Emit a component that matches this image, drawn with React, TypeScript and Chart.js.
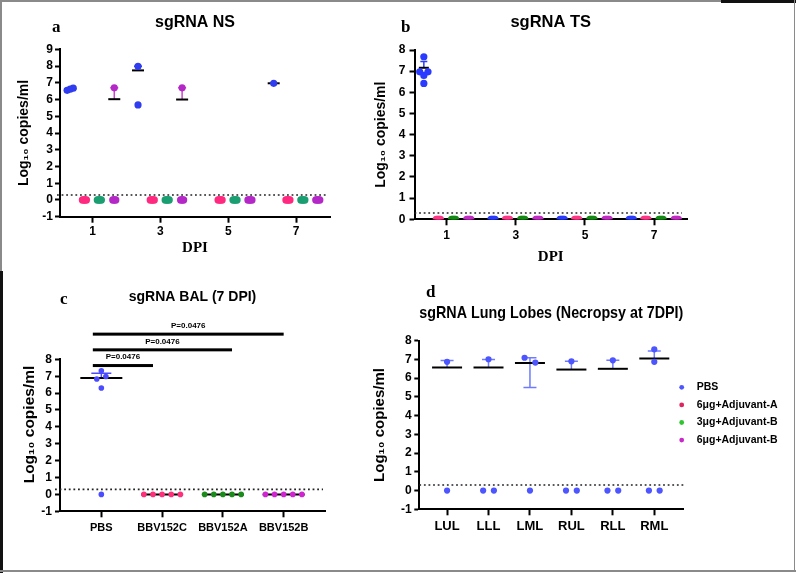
import React, { useEffect, useRef } from "react";
import { Chart, registerables } from "chart.js";
Chart.register(...registerables);

const SANS = "'Liberation Sans', Arial, Helvetica, sans-serif";
const SERIF = "'Liberation Serif', 'Times New Roman', Times, serif";

// ---------------- data ----------------
const DPI = [1, 3, 5, 7];
const GROUPS = ["PBS", "6μg+Adjuvant-A", "3μg+Adjuvant-B", "6μg+Adjuvant-B"];
const LOD = 0.3;
const Y_LABEL = "Log₁₀ copies/ml";

// (a) sgRNA NS — values per DPI for each group
const NS_PBS = [[6.55, 6.62, 6.68], [7.98, 5.68], [], [6.97]];
const NS_ADJ_A6 = [[0, 0, 0, 0, 0], [0, 0, 0, 0, 0], [0, 0, 0, 0, 0], [0, 0, 0, 0, 0]];
const NS_ADJ_B3 = [[0, 0, 0, 0, 0], [0, 0, 0, 0, 0], [0, 0, 0, 0, 0], [0, 0, 0, 0, 0]];
const NS_ADJ_B6 = [[6.7, 0, 0, 0, 0], [6.7, 0, 0, 0, 0], [0, 0, 0, 0, 0], [0, 0, 0, 0, 0]];
const NS_PBS_MEAN = [6.62, 7.74, null, 6.97];
const NS_PBS_UPPER = [null, 7.98, null, null];
const NS_B6_MEAN = [6.02, 6.0, null, null];
const NS_B6_UPPER = [6.7, 6.7, null, null];

// (b) sgRNA TS
const TS_PBS = [[7.68, 6.97, 6.97, 6.8, 6.42], [0, 0, 0, 0, 0], [0, 0, 0, 0, 0], [0, 0, 0, 0, 0]];
const TS_ADJ_A6 = [[0, 0, 0, 0, 0], [0, 0, 0, 0, 0], [0, 0, 0, 0, 0], [0, 0, 0, 0, 0]];
const TS_ADJ_B3 = [[0, 0, 0, 0, 0], [0, 0, 0, 0, 0], [0, 0, 0, 0, 0], [0, 0, 0, 0, 0]];
const TS_ADJ_B6 = [[0, 0, 0, 0, 0], [0, 0, 0, 0, 0], [0, 0, 0, 0, 0], [0, 0, 0, 0, 0]];
const TS_PBS_MEAN = [7.16, null, null, null];
const TS_PBS_UPPER = [7.46, null, null, null];

// (c) sgRNA BAL (7 DPI)
const BAL_CATEGORIES = ["PBS", "BBV152C", "BBV152A", "BBV152B"];
const BAL_PBS = [7.32, 6.83, 6.98, 6.3, 0];
const BAL_BBV152C = [0, 0, 0, 0, 0];
const BAL_BBV152A = [0, 0, 0, 0, 0];
const BAL_BBV152B = [0, 0, 0, 0, 0];
const BAL_MEAN = [6.89, 0, 0, 0];
const BAL_UPPER = [7.18, null, null, null];
const BAL_P_TEXT = ["P=0.0476", "P=0.0476", "P=0.0476"];
const BAL_P_LEVEL = [7.63, 8.56, 9.49];

// (d) sgRNA Lung Lobes
const LOBES = ["LUL", "LLL", "LML", "RUL", "RLL", "RML"];
const LOBE_PBS = [[6.87, 0], [7.01, 0, 0], [7.09, 6.83, 0], [6.9, 0, 0], [6.95, 0, 0], [7.54, 6.87, 0, 0]];
const LOBE_MEAN = [6.57, 6.57, 6.81, 6.46, 6.5, 7.05];
const LOBE_UPPER = [6.94, 7.0, 7.09, 6.9, 6.95, 7.45];
const LOBE_LOWER = [null, null, 5.5, null, null, null];

// ---------------- layout / style ----------------
const GROUP_OFFSETS = [-0.66, -0.24, 0.2, 0.64];
const COLORS_A = ["#2f3cf0", "#ff2a80", "#1a9e72", "#b428c8"];
const COLORS_B = ["#2a3bff", "#ff3585", "#138a13", "#c32ac3"];
const COLORS_C = ["#4b4bff", "#ff2f7c", "#1a8c1a", "#d024d0"];
const COLORS_D = ["#4d55ff", "#e0245e", "#31c431", "#c72bc7"];

// spread overlapping values sideways; values below the detection limit pack tightly
function beeswarm(values: number[], center: number, dx: number, thr: number, lowDx: number) {
  const idx = values.map((_, i) => i).sort((a, b) => values[a] - values[b]);
  const cl: number[] = new Array(values.length).fill(0);
  let c = 0;
  for (let k = 0; k < idx.length; k++) {
    if (k > 0 && values[idx[k]] - values[idx[k - 1]] >= thr) c++;
    cl[idx[k]] = c;
  }
  const counts: Record<number, number> = {};
  cl.forEach((v) => (counts[v] = (counts[v] || 0) + 1));
  const seen: Record<number, number> = {};
  return values.map((v, i) => {
    const n = counts[cl[i]];
    const k = seen[cl[i]] || 0;
    seen[cl[i]] = k + 1;
    const step = v < LOD ? lowDx : dx;
    return { x: center + (k - (n - 1) / 2) * step, y: v };
  });
}

function dataset(label: string, color: string, perPos: number[][], positions: number[], dx: number, thr: number, lowDx: number, r: number) {
  const pts: { x: number; y: number }[] = [];
  perPos.forEach((vals, i) => pts.push(...beeswarm(vals, positions[i], dx, thr, lowDx)));
  return { label, data: pts, backgroundColor: color, borderColor: color, borderWidth: 0, pointRadius: r, pointHoverRadius: r };
}

type Stat = { x: number; mean: number | null; upper?: number | null; lower?: number | null; color: string };

function overlay(o: { stats: Stat[]; meanW: number; capW: number; lodFrom: number; lodTo: number; after?: (chart: any) => void }) {
  return {
    id: "overlay",
    beforeDatasetsDraw(chart: any) {
      const { ctx, chartArea: ca } = chart;
      const xs = chart.scales.x;
      const ys = chart.scales.y;
      ctx.save();
      ctx.strokeStyle = "#222";
      ctx.lineWidth = 1.6;
      ctx.setLineDash([1.8, 2.8]);
      const yl = ys.getPixelForValue(LOD);
      ctx.beginPath();
      ctx.moveTo(ca.left + o.lodFrom, yl);
      ctx.lineTo(ca.right + o.lodTo, yl);
      ctx.stroke();
      ctx.setLineDash([]);
      for (const s of o.stats) {
        if (s.mean == null) continue;
        const px = xs.getPixelForValue(s.x);
        const pm = ys.getPixelForValue(s.mean);
        ctx.strokeStyle = s.color;
        ctx.lineWidth = 1.5;
        for (const e of [s.upper, s.lower]) {
          if (e == null) continue;
          const pe = ys.getPixelForValue(e);
          ctx.beginPath();
          ctx.moveTo(px, pm);
          ctx.lineTo(px, pe);
          ctx.moveTo(px - o.capW / 2, pe);
          ctx.lineTo(px + o.capW / 2, pe);
          ctx.stroke();
        }
        ctx.strokeStyle = "#000";
        ctx.lineWidth = 2;
        ctx.beginPath();
        ctx.moveTo(px - o.meanW / 2, pm);
        ctx.lineTo(px + o.meanW / 2, pm);
        ctx.stroke();
      }
      ctx.restore();
    },
    afterDraw(chart: any) {
      if (o.after) o.after(chart);
    },
  };
}

function yAxis(min: number, max: number, width: number, tickSize: number, tickPad: number, titleSize: number, titlePad: number, text: string) {
  return {
    type: "linear",
    min,
    max,
    ticks: { stepSize: 1, autoSkip: false, color: "#000", padding: tickPad, font: { family: SANS, size: tickSize, weight: "bold" } },
    grid: { drawOnChartArea: false, drawTicks: true, tickLength: 5, tickWidth: 2, tickColor: "#000" },
    border: { display: true, color: "#000", width: 2 },
    title: { display: true, text, color: "#000", padding: { top: titlePad, bottom: 0 }, font: { family: SANS, size: titleSize, weight: "bold" } },
    afterFit: (s: any) => {
      s.width = width;
    },
  };
}

function xAxis(min: number, max: number, tickValues: number[], labels: string[] | null, height: number, tickSize: number, tickPad: number, title: any) {
  return {
    type: "linear",
    min,
    max,
    afterBuildTicks: (s: any) => {
      s.ticks = tickValues.map((v) => ({ value: v }));
    },
    ticks: {
      color: "#000",
      padding: tickPad,
      autoSkip: false,
      maxRotation: 0,
      font: { family: SANS, size: tickSize, weight: "bold" },
      callback: (v: any) => (labels ? labels[Math.round(v)] : String(v)),
    },
    grid: { drawOnChartArea: false, drawTicks: true, tickLength: 6, tickWidth: 2, tickColor: "#000" },
    border: { display: true, color: "#000", width: 2 },
    title: title || { display: false },
    afterFit: (s: any) => {
      s.height = height;
    },
  };
}

function titleOpts(text: string, size: number, top: number, bottom: number) {
  return { display: true, text, color: "#000", fullSize: false, padding: { top, bottom }, font: { family: SANS, size, weight: "bold" } };
}

function baseOptions(padRight: number, title: any, x: any, y: any) {
  return {
    responsive: false,
    animation: false,
    devicePixelRatio: 1,
    events: [],
    layout: { padding: { top: 0, left: 0, right: padRight, bottom: 0 } },
    plugins: { legend: { display: false }, tooltip: { enabled: false }, title },
    scales: { x, y },
  };
}

// ---------------- panels ----------------
function buildNS() {
  const series = [NS_PBS, NS_ADJ_A6, NS_ADJ_B3, NS_ADJ_B6];
  const datasets = series.map((s, g) =>
    dataset(GROUPS[g], COLORS_A[g], s, DPI.map((d) => d + GROUP_OFFSETS[g]), 0.09, 0.3, 0.03, 3.6)
  );
  const stats: Stat[] = [];
  DPI.forEach((d, i) => {
    stats.push({ x: d + GROUP_OFFSETS[0], mean: NS_PBS_MEAN[i], upper: NS_PBS_UPPER[i], color: COLORS_A[0] });
    stats.push({ x: d + GROUP_OFFSETS[3], mean: NS_B6_MEAN[i], upper: NS_B6_UPPER[i], color: "#cc44cc" });
  });
  return {
    type: "scatter",
    data: { datasets },
    options: baseOptions(
      40,
      titleOpts("sgRNA NS", 16, 13.4, 16.7),
      xAxis(0.04, 8.0, DPI, null, 53.3, 12, 2, {
        display: true, text: "DPI", color: "#000", padding: { top: 0, bottom: 12.7 }, font: { family: SERIF, size: 15, weight: "bold" },
      }),
      yAxis(-1, 9, 60, 12, 2, 14, 15.6, Y_LABEL)
    ),
    plugins: [overlay({ stats, meanW: 12, capW: 8, lodFrom: -3, lodTo: -2 })],
  };
}

function buildTS() {
  const series = [TS_PBS, TS_ADJ_A6, TS_ADJ_B3, TS_ADJ_B6];
  const datasets = series.map((s, g) =>
    dataset(GROUPS[g], COLORS_B[g], s, DPI.map((d) => d + GROUP_OFFSETS[g]), 0.24, 0.12, 0.03, 3.6)
  );
  const stats: Stat[] = DPI.map((d, i) => ({ x: d + GROUP_OFFSETS[0], mean: TS_PBS_MEAN[i], upper: TS_PBS_UPPER[i], color: COLORS_B[0] }));
  return {
    type: "scatter",
    data: { datasets },
    options: baseOptions(
      109,
      titleOpts("sgRNA TS", 16.5, 12.8, 17.4),
      xAxis(0.07, 7.95, DPI, null, 50.7, 12, 3.5, {
        display: true, text: "DPI", color: "#000", padding: { top: 0, bottom: 3.7 }, font: { family: SERIF, size: 15, weight: "bold" },
      }),
      yAxis(0, 8, 44.5, 12, 4, 14, 2.6, Y_LABEL)
    ),
    plugins: [overlay({ stats, meanW: 10, capW: 7, lodFrom: 0, lodTo: -5 })],
  };
}

function buildBAL() {
  const series = [BAL_PBS, BAL_BBV152C, BAL_BBV152A, BAL_BBV152B];
  const datasets = series.map((s, g) => dataset(BAL_CATEGORIES[g], COLORS_C[g], [s], [g], 0.15, 0.25, 0.15, 2.8));
  const stats: Stat[] = BAL_CATEGORIES.map((_, i) => ({ x: i, mean: BAL_MEAN[i], upper: BAL_UPPER[i], color: COLORS_C[0] }));
  const spans = [[-0.14, 0.85], [-0.14, 2.15], [-0.14, 3.0]];
  const sig = (chart: any) => {
    const { ctx } = chart;
    const xs = chart.scales.x;
    const ys = chart.scales.y;
    ctx.save();
    ctx.fillStyle = "#000";
    ctx.font = `bold 8px ${SANS}`;
    ctx.textAlign = "center";
    ctx.textBaseline = "middle";
    BAL_P_LEVEL.forEach((lv, i) => {
      const y = ys.getPixelForValue(lv);
      const x1 = xs.getPixelForValue(spans[i][0]);
      const x2 = xs.getPixelForValue(spans[i][1]);
      ctx.fillRect(x1, y - 1.5, x2 - x1, 3);
      ctx.fillText(BAL_P_TEXT[i], (x1 + x2) / 2, y - 8.4);
    });
    ctx.restore();
  };
  return {
    type: "scatter",
    data: { datasets },
    options: baseOptions(
      45,
      titleOpts("sgRNA BAL (7 DPI)", 14, 18.3, 54.2),
      xAxis(-0.68, 3.68, [0, 1, 2, 3], BAL_CATEGORIES, 61.7, 11, 4.4, null),
      yAxis(-1, 8, 60, 12, 3, 15.5, 20.7, "     " + Y_LABEL)
    ),
    plugins: [overlay({ stats, meanW: 42, capW: 20, lodFrom: -5, lodTo: -2, after: sig })],
  };
}

function buildLobes() {
  const positions = LOBES.map((_, i) => i);
  const datasets = [dataset(GROUPS[0], COLORS_D[0], LOBE_PBS, positions, 0.26, 0.35, 0.26, 3.1)];
  const stats: Stat[] = LOBES.map((_, i) => ({ x: i, mean: LOBE_MEAN[i], upper: LOBE_UPPER[i], lower: LOBE_LOWER[i], color: "#6f7bff" }));
  const legend = (chart: any) => {
    const { ctx, chartArea: ca } = chart;
    ctx.save();
    ctx.font = `bold 10.5px ${SANS}`;
    ctx.textAlign = "left";
    ctx.textBaseline = "middle";
    GROUPS.forEach((g, i) => {
      const y = ca.top + 46.6 + i * 17.6;
      ctx.fillStyle = COLORS_D[i];
      ctx.beginPath();
      ctx.arc(ca.right - 1.6, y, 2.4, 0, Math.PI * 2);
      ctx.fill();
      ctx.fillStyle = "#000";
      ctx.fillText(g, ca.right + 13.4, y);
    });
    ctx.restore();
  };
  return {
    type: "scatter",
    data: { datasets },
    options: baseOptions(
      112.7,
      titleOpts("sgRNA Lung Lobes (Necropsy at 7DPI)", 17, 33.1, 17.2),
      xAxis(-0.67, 5.7, positions, LOBES, 63.7, 13, 3.6, null),
      yAxis(-1, 8, 49.3, 12, 2.6, 15, 1, Y_LABEL)
    ),
    plugins: [overlay({ stats, meanW: 30, capW: 13, lodFrom: 0, lodTo: 1, after: legend })],
  };
}

function ChartCanvas(props: { left: number; top: number; width: number; height: number; build: () => any }) {
  const ref = useRef<HTMLCanvasElement>(null);
  useEffect(() => {
    const chart = new Chart(ref.current as HTMLCanvasElement, props.build());
    return () => chart.destroy();
  }, []);
  return (
    <canvas
      ref={ref}
      width={props.width}
      height={props.height}
      style={{ position: "absolute", left: props.left, top: props.top, width: props.width, height: props.height }}
    />
  );
}

const letterStyle = (left: number, top: number): React.CSSProperties => ({
  position: "absolute",
  left,
  top,
  fontFamily: SERIF,
  fontWeight: "bold",
  fontSize: 17,
  lineHeight: "17px",
  color: "#000",
});

const line = (left: number, top: number, width: number, height: number, color: string): React.CSSProperties => ({
  position: "absolute",
  left,
  top,
  width,
  height,
  background: color,
});

export default function App() {
  return (
    <div style={{ position: "absolute", left: 0, top: 0, width: 796, height: 573, background: "#fff", overflow: "hidden" }}>
      <ChartCanvas left={0} top={0} width={370} height={270} build={buildNS} />
      <ChartCanvas left={370} top={0} width={426} height={270} build={buildTS} />
      <ChartCanvas left={0} top={270} width={370} height={303} build={buildBAL} />
      <ChartCanvas left={370} top={270} width={426} height={303} build={buildLobes} />
      <div style={letterStyle(52, 18)}>a</div>
      <div style={letterStyle(401, 18)}>b</div>
      <div style={letterStyle(60, 290)}>c</div>
      <div style={letterStyle(426, 282.5)}>d</div>
      <div style={line(0, 0, 721, 1.5, "#8a8a8a")} />
      <div style={line(721, 0, 75, 2.5, "#111")} />
      <div style={line(0, 0, 1.5, 271, "#8a8a8a")} />
      <div style={line(0, 271, 3, 302, "#111")} />
      <div style={line(793.5, 0, 1.5, 571, "#8a8a8a")} />
      <div style={line(0, 570, 796, 1.5, "#8a8a8a")} />
    </div>
  );
}
